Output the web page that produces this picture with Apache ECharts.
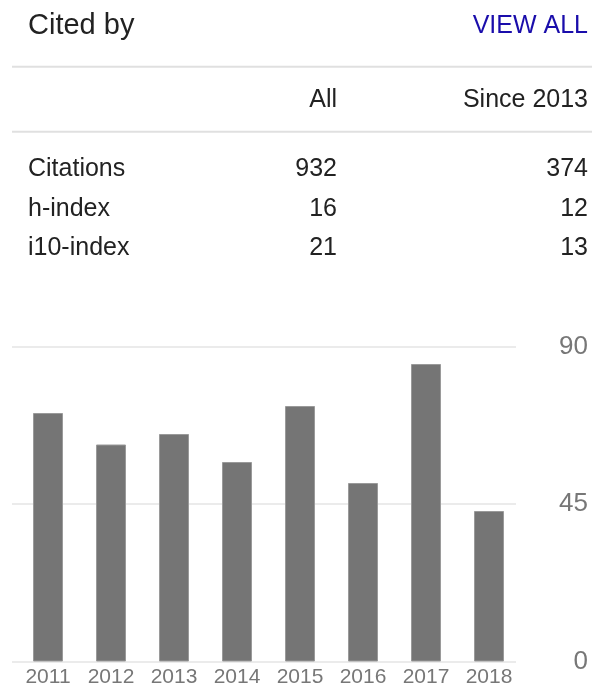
<!DOCTYPE html>
<html>
<head>
<meta charset="utf-8">
<title>Cited by</title>
<script src="https://cdn.jsdelivr.net/npm/echarts@6/dist/echarts.min.js"></script>
<style>
  html, body { margin: 0; padding: 0; background: #fff; }
  #chart { width: 592px; height: 684px; }
</style>
</head>
<body>
<div id="chart"></div>
<script>
// citations per year
const years = ['2011', '2012', '2013', '2014', '2015', '2016', '2017', '2018'];
const citations = [71, 62, 65, 57, 73, 51, 85, 43];

// summary table
const columnHeads = ['All', 'Since 2013'];
const statNames = ['Citations', 'h-index', 'i10-index'];
const statAll = [932, 16, 21];
const statSince = [374, 12, 13];

const FONT = '"Liberation Sans", Arial, Helvetica, sans-serif';
const INK = '#222';
const GREY = '#777';

const chart = echarts.init(document.getElementById('chart'));

const txt = (text, x, y, size, color, align) => ({
  type: 'text',
  x: x,
  y: y,
  style: {
    text: String(text),
    fill: color,
    font: size + 'px ' + FONT,
    align: align,
    verticalAlign: 'middle'
  }
});

const rule = (y) => ({
  type: 'line',
  shape: { x1: 12, y1: y, x2: 592, y2: y },
  style: { stroke: '#e0e0e0', lineWidth: 2 }
});

const graphics = [
  txt('Cited by', 28, 26, 29, INK, 'left'),
  txt('VIEW ALL', 588, 26.5, 25, '#1a0dab', 'right'),
  rule(66.7),
  txt(columnHeads[0], 337, 100, 25, INK, 'right'),
  txt(columnHeads[1], 588, 100, 25, INK, 'right'),
  rule(131.7)
];
const rowY = [169, 209, 248];
statNames.forEach((name, i) => {
  graphics.push(txt(name, 28, rowY[i], 25, INK, 'left'));
  graphics.push(txt(statAll[i], 337, rowY[i], 25, INK, 'right'));
  graphics.push(txt(statSince[i], 588, rowY[i], 25, INK, 'right'));
});

chart.setOption({
  animation: false,
  textStyle: { fontFamily: FONT },
  graphic: graphics,
  // bars sit in grid 0, the split lines and right labels in grid 1 (shifted 4.5px left)
  grid: [
    { left: 16.5, width: 504, top: 346.5, height: 315, outerBoundsMode: 'none' },
    { left: 12, width: 504, top: 346.5, height: 315, outerBoundsMode: 'none' }
  ],
  xAxis: [
    {
      type: 'category',
      gridIndex: 0,
      data: years,
      axisLine: { show: false },
      axisTick: { show: false },
      axisLabel: { color: GREY, fontSize: 21, margin: 5 }
    },
    {
      type: 'category',
      gridIndex: 1,
      data: years,
      show: false
    }
  ],
  yAxis: [
    {
      type: 'value',
      gridIndex: 0,
      min: 0,
      max: 90,
      interval: 45,
      show: false
    },
    {
      type: 'value',
      gridIndex: 1,
      position: 'right',
      min: 0,
      max: 90,
      interval: 45,
      axisLine: { show: false },
      axisTick: { show: false },
      axisLabel: { color: GREY, fontSize: 26, align: 'right', margin: 72, padding: [4, 0, 0, 0] },
      splitLine: { lineStyle: { color: '#ebebeb', width: 2 } }
    }
  ],
  series: [
    {
      type: 'bar',
      xAxisIndex: 0,
      yAxisIndex: 0,
      data: citations,
      barWidth: 30,
      itemStyle: {
        color: '#757575',
        borderColor: '#9a9a9a',
        borderWidth: 1
      }
    }
  ]
});
</script>
</body>
</html>
